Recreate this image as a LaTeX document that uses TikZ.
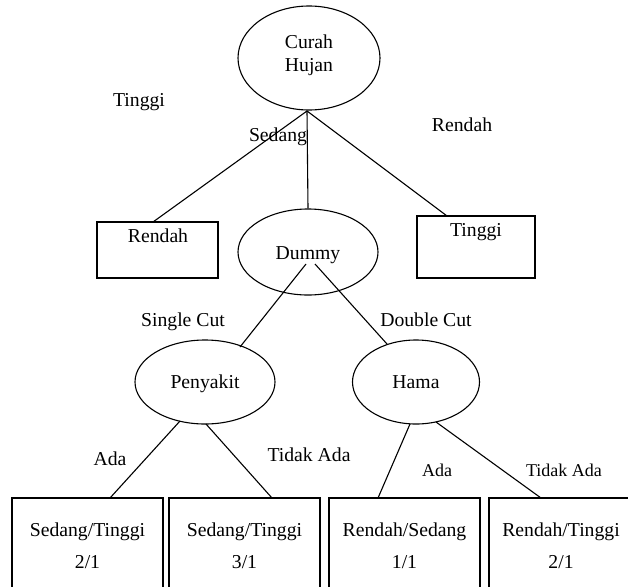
\documentclass[tikz,border=0pt]{standalone}
\usepackage{fontspec}
\setmainfont{Liberation Serif}
\usetikzlibrary{shapes.geometric}
\begin{document}
\begin{tikzpicture}[x=1pt,y=-1pt,
  oval/.style={draw, ellipse, inner sep=0pt, line width=1.1pt},
  box/.style={draw, rectangle, inner sep=0pt, line width=1.1pt},
  txt/.style={inner sep=0pt, font=\fontsize{19.7}{23}\selectfont, text height=13pt, text depth=4pt},
  stxt/.style={inner sep=0pt, font=\fontsize{18}{21}\selectfont, text height=12pt, text depth=4pt},
  conn/.style={draw, line width=1.1pt}]
\useasboundingbox (0,0) rectangle (628,586);

% ellipses
\node[oval, minimum width=142pt, minimum height=104pt] (CH) at (309,58) {};
\node[oval, minimum width=140pt, minimum height=86pt] (DU) at (308,252) {};
\node[oval, minimum width=140pt, minimum height=84pt] (PE) at (205,382) {};
\node[oval, minimum width=127pt, minimum height=84pt] (HA) at (416,382) {};

% boxes
\node[box, minimum width=121pt, minimum height=56pt] (BR) at (157.5,250) {};
\node[box, minimum width=118pt, minimum height=62pt] (BT) at (476,247) {};
\node[box, minimum width=151pt, minimum height=112pt] (B1) at (87.5,554) {};
\node[box, minimum width=151pt, minimum height=112pt] (B2) at (244.5,554) {};
\node[box, minimum width=151pt, minimum height=112pt] (B3) at (404.5,554) {};
\node[box, minimum width=151pt, minimum height=112pt] (B4) at (564.5,554) {};

% texts in shapes
\node[txt] (tC) at (309,44) {Curah};
\node[txt] (tH) at (309,67) {Hujan};
\node[txt] (tD) at (308,255) {Dummy};
\node[txt] (tP) at (205,384) {Penyakit};
\node[txt] (tHa) at (416,384) {Hama};
\node[txt] (tBR) at (158,238) {Rendah};
\node[txt] (tBT) at (476,232) {Tinggi};
\node[txt] (t1a) at (87.5,532) {Sedang/Tinggi};
\node[txt] (t1b) at (87.5,564) {2/1};
\node[txt] (t2a) at (244.5,532) {Sedang/Tinggi};
\node[txt] (t2b) at (244.5,564) {3/1};
\node[txt] (t3a) at (404.5,532) {Rendah/Sedang};
\node[txt] (t3b) at (404.5,564) {1/1};
\node[txt] (t4a) at (561,532) {Rendah/Tinggi};
\node[txt] (t4b) at (561,564) {2/1};

% edge labels
\node[txt] (lT) at (139,102) {Tinggi};
\node[txt] (lS) at (278,137) {Sedang};
\node[txt] (lR) at (462,127) {Rendah};
\node[txt] (lSC) at (183,322) {Single Cut};
\node[txt] (lDC) at (426,322) {Double Cut};
\node[txt] (lA1) at (110,461) {Ada};
\node[txt] (lTA1) at (309,457) {Tidak Ada};
\node[stxt] (lA2) at (437,472) {Ada};
\node[stxt] (lTA2) at (564,472) {Tidak Ada};

% connector end points
\coordinate (c0) at (307,111);
\coordinate (cR) at (153,222);
\coordinate (cT) at (447,216);
\coordinate (d1) at (306,264);
\coordinate (d2) at (315,264);
\coordinate (cP) at (240,347);
\coordinate (cH) at (387,344);
\coordinate (p1) at (180,421);
\coordinate (p2) at (206,424);
\coordinate (h1) at (410,424);
\coordinate (h2) at (436,422);
\coordinate (e1) at (110,498);
\coordinate (e2) at (272,498);
\coordinate (e3) at (378,498);
\coordinate (e4) at (541,498);

\draw[conn] (c0) -- (cR);
\draw[conn] (c0) -- (DU.north);
\draw[conn] (c0) -- (cT);
\draw[conn] (d1) -- (cP);
\draw[conn] (d2) -- (cH);
\draw[conn] (p1) -- (e1);
\draw[conn] (p2) -- (e2);
\draw[conn] (h1) -- (e3);
\draw[conn] (h2) -- (e4);
\end{tikzpicture}
\end{document}
